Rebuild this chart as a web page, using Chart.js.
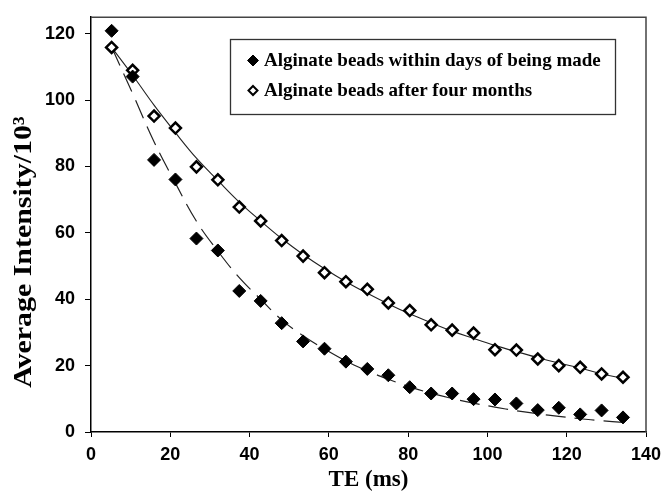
<!DOCTYPE html>
<html>
<head>
<meta charset="utf-8">
<script src="https://cdn.jsdelivr.net/npm/chart.js@4.4.0/dist/chart.umd.min.js"></script>
<style>
  html, body { margin: 0; padding: 0; background: #fff; }
  #wrap { width: 663px; height: 499px; }
</style>
</head>
<body>
<div id="wrap"><canvas id="chart" width="663" height="499"></canvas></div>
<script>
// Dados
const teValues = [5.2, 10.5, 15.9, 21.3, 26.6, 32.0, 37.4, 42.8, 48.1, 53.5, 58.9, 64.3, 69.7, 75.0, 80.4, 85.8, 91.1, 96.5, 101.9, 107.3, 112.7, 118.0, 123.4, 128.8, 134.2];
const freshValues = [120.9, 107.1, 82.0, 76.1, 58.3, 54.7, 42.5, 39.5, 32.8, 27.3, 25.1, 21.2, 19.0, 17.1, 13.5, 11.6, 11.6, 9.9, 9.8, 8.6, 6.6, 7.3, 5.3, 6.5, 4.4];
const agedValues = [115.9, 109.0, 95.2, 91.6, 79.9, 76.0, 67.8, 63.6, 57.7, 53.0, 48.0, 45.3, 43.0, 38.9, 36.6, 32.3, 30.7, 29.8, 24.8, 24.7, 22.0, 20.0, 19.5, 17.5, 16.5];
// curvas de ajuste
const freshFit = [116, 102, 87.5, 75, 63.5, 54.5, 46.5, 40.0, 33.8, 29.0, 25.0, 21.4, 18.4, 15.9, 13.6, 11.7, 10.1, 8.7, 7.5, 6.4, 5.5, 4.7, 4.0, 3.4, 2.9];
const agedFit = [115.9, 107.5, 98.5, 90.2, 82.5, 75.8, 69.3, 63.6, 58.3, 53.5, 49.2, 45.3, 41.8, 38.6, 35.6, 32.9, 30.4, 28.2, 26.1, 24.2, 22.4, 20.8, 19.3, 17.5, 16.2];
const seriesLabels = ['Alginate beads within days of being made', 'Alginate beads after four months'];
const yTitle = 'Average Intensity/10³';
const xTicks = [0, 20, 40, 60, 80, 100, 120, 140];
const yTicks = [0, 20, 40, 60, 80, 100, 120];

const toPoints = (ys) => teValues.map((x, i) => ({ x: x, y: ys[i] }));

const tickFont = { family: 'Liberation Sans, Arial, sans-serif', size: 18, weight: 'bold', lineHeight: 0.8 };
const titleFont = { family: 'Liberation Serif, Times New Roman, serif', size: 23, weight: 'bold' };

// Moldura do gráfico, título do eixo Y e legenda com caixa
const framePlugin = {
    id: 'frame',
    afterDraw(chart) {
        const ctx = chart.ctx;
        const a = chart.chartArea;
        ctx.save();
        ctx.strokeStyle = '#444';
        ctx.lineWidth = 1.5;
        ctx.beginPath();
        ctx.moveTo(a.left, a.top);
        ctx.lineTo(a.right, a.top);
        ctx.lineTo(a.right, a.bottom);
        ctx.stroke();

        // título do eixo Y (um pouco esticado, como na figura)
        ctx.save();
        ctx.translate(24, 252);
        ctx.rotate(-Math.PI / 2);
        ctx.scale(1.15, 1);
        ctx.font = 'bold 26px "Liberation Serif", "Times New Roman", serif';
        ctx.fillStyle = '#000';
        ctx.textAlign = 'center';
        ctx.textBaseline = 'middle';
        ctx.fillText(yTitle, 0, 0);
        ctx.restore();

        // legenda
        const bx = 230.5, by = 39.5, bw = 385, bh = 75;
        ctx.strokeStyle = '#333';
        ctx.lineWidth = 1.3;
        ctx.fillStyle = '#fff';
        ctx.fillRect(bx, by, bw, bh);
        ctx.strokeRect(bx, by, bw, bh);

        ctx.font = 'bold 19px "Liberation Serif", "Times New Roman", serif';
        ctx.textBaseline = 'middle';
        const rows = [by + 21, by + 51];
        rows.forEach((ry, i) => {
            const r = i === 0 ? 5.5 : 4.5;
            ctx.fillStyle = i === 0 ? '#000' : '#fff';
            ctx.strokeStyle = '#000';
            ctx.lineWidth = i === 0 ? 1 : 2;
            ctx.beginPath();
            ctx.moveTo(253, ry - r);
            ctx.lineTo(253 + r, ry);
            ctx.lineTo(253, ry + r);
            ctx.lineTo(253 - r, ry);
            ctx.closePath();
            ctx.fill();
            ctx.stroke();
            ctx.fillStyle = '#000';
            ctx.fillText(seriesLabels[i], 264, ry + 1);
        });
        ctx.restore();
    }
};

new Chart(document.getElementById('chart'), {
    type: 'scatter',
    data: {
        datasets: [
            {
                label: seriesLabels[0],
                data: toPoints(freshValues),
                pointStyle: 'rectRot',
                pointRadius: 6.5,
                backgroundColor: '#000',
                borderColor: '#000',
                borderWidth: 1,
                order: 1
            },
            {
                label: seriesLabels[1],
                data: toPoints(agedValues),
                pointStyle: 'rectRot',
                pointRadius: 5.5,
                backgroundColor: '#fff',
                borderColor: '#000',
                borderWidth: 2.5,
                order: 1
            },
            {
                type: 'line',
                label: 'fit fresh',
                data: toPoints(freshFit),
                borderColor: '#222',
                borderWidth: 1.2,
                borderDash: [20, 9],
                pointRadius: 0,
                tension: 0.4,
                fill: false,
                order: 2
            },
            {
                type: 'line',
                label: 'fit aged',
                data: toPoints(agedFit),
                borderColor: '#222',
                borderWidth: 1.1,
                pointRadius: 0,
                tension: 0.4,
                fill: false,
                order: 2
            }
        ]
    },
    options: {
        responsive: false,
        animation: false,
        layout: { padding: { top: 14, right: 17, left: 0, bottom: 0 } },
        plugins: {
            legend: { display: false },
            tooltip: { enabled: false }
        },
        scales: {
            x: {
                type: 'linear',
                min: 0,
                max: 140,
                afterBuildTicks: (axis) => { axis.ticks = xTicks.map(v => ({ value: v })); },
                afterFit: (axis) => { axis.height = 67; axis.paddingRight = 0; },
                ticks: { font: tickFont, color: '#000', padding: 11, maxRotation: 0 },
                grid: { drawOnChartArea: false, drawTicks: true, tickLength: 5, color: '#000' },
                border: { color: '#000', width: 1.5 },
                title: { display: true, text: 'TE (ms)', font: titleFont, color: '#000', padding: { top: 0, bottom: 5 } }
            },
            y: {
                min: 0,
                max: 125,
                afterBuildTicks: (axis) => { axis.ticks = yTicks.map(v => ({ value: v })); },
                afterFit: (axis) => { axis.width = 91; },
                ticks: { font: tickFont, color: '#000', padding: 10 },
                grid: { drawOnChartArea: false, drawTicks: true, tickLength: 6, color: '#000' },
                border: { color: '#000', width: 1.5 },
                title: { display: false }
            }
        }
    },
    plugins: [framePlugin]
});
</script>
</body>
</html>
